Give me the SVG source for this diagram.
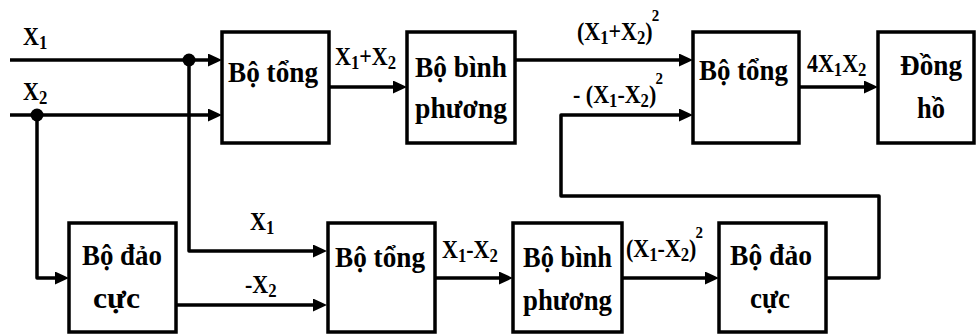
<svg xmlns="http://www.w3.org/2000/svg" width="977" height="335" viewBox="0 0 977 335">
<style>
.box{fill:#fff;stroke:#000;stroke-width:3.5}
.ln{fill:none;stroke:#000;stroke-width:3.5;stroke-linejoin:round}
.t{font-family:"Liberation Serif","Times New Roman",serif;font-size:30px;font-weight:bold;fill:#000}
.l{font-family:"Liberation Serif","Times New Roman",serif;font-size:25px;font-weight:bold;fill:#000}
.sub{font-size:19px}
.sup{font-size:17px}
</style>
<defs>
<marker id="ar" markerUnits="userSpaceOnUse" markerWidth="16" markerHeight="14" refX="4" refY="6.5" orient="auto">
<path d="M0,0 L14,6.5 L0,13 z" fill="#000"/>
</marker>
</defs>
<rect width="977" height="335" fill="#fff"/>
<g id="connectors">
<path class="ln" d="M10,60 H212" marker-end="url(#ar)"/>
<path class="ln" d="M10,115 H212" marker-end="url(#ar)"/>
<path class="ln" d="M189,60 V251 H317" marker-end="url(#ar)"/>
<path class="ln" d="M37,115 V278 H59" marker-end="url(#ar)"/>
<path class="ln" d="M176,305 H317" marker-end="url(#ar)"/>
<path class="ln" d="M329,87 H397" marker-end="url(#ar)"/>
<path class="ln" d="M515,60 H683" marker-end="url(#ar)"/>
<path class="ln" d="M435,278 H503" marker-end="url(#ar)"/>
<path class="ln" d="M622,278 H709" marker-end="url(#ar)"/>
<path class="ln" d="M826,278 H879 V196 H561 V115 H683" marker-end="url(#ar)"/>
<path class="ln" d="M799,87 H868" marker-end="url(#ar)"/>
<circle cx="189" cy="60" r="6.5" fill="#000"/>
<circle cx="37" cy="115" r="6.5" fill="#000"/>
<text class="l" transform="translate(23,45) scale(0.88,1)">X<tspan class="sub" dy="4">1</tspan></text>
<text class="l" transform="translate(23,100) scale(0.88,1)">X<tspan class="sub" dy="4">2</tspan></text>
<text class="l" transform="translate(335,65) scale(0.88,1)">X<tspan class="sub" dy="4">1</tspan><tspan dy="-4">+X</tspan><tspan class="sub" dy="4">2</tspan></text>
<text class="l" transform="translate(577,40) scale(0.88,1)">(X<tspan class="sub" dy="4">1</tspan><tspan dy="-4">+X</tspan><tspan class="sub" dy="4">2</tspan><tspan dy="-4">)</tspan><tspan class="sup" dx="-1" dy="-19">2</tspan></text>
<text class="l" transform="translate(573,103) scale(0.88,1)">- (X<tspan class="sub" dy="4">1</tspan><tspan dy="-4">-X</tspan><tspan class="sub" dy="4">2</tspan><tspan dy="-4">)</tspan><tspan class="sup" dx="-1" dy="-19">2</tspan></text>
<text class="l" transform="translate(807,72) scale(0.88,1)">4X<tspan class="sub" dy="4">1</tspan><tspan dy="-4">X</tspan><tspan class="sub" dy="4">2</tspan></text>
<text class="l" transform="translate(250,230) scale(0.88,1)">X<tspan class="sub" dy="4">1</tspan></text>
<text class="l" transform="translate(245,293) scale(0.88,1)">-X<tspan class="sub" dy="4">2</tspan></text>
<text class="l" transform="translate(442,258) scale(0.88,1)">X<tspan class="sub" dy="4">1</tspan><tspan dy="-4">-X</tspan><tspan class="sub" dy="4">2</tspan></text>
<text class="l" transform="translate(626,257) scale(0.88,1)">(X<tspan class="sub" dy="4">1</tspan><tspan dy="-4">-X</tspan><tspan class="sub" dy="4">2</tspan><tspan dy="-4">)</tspan><tspan class="sup" dx="-1" dy="-19">2</tspan></text>
</g>
<g id="tong1">
<rect class="box" x="222" y="32" width="107" height="111"/>
<text class="t" x="228" y="82" textLength="90" lengthAdjust="spacingAndGlyphs">Bộ tổng</text>
</g>
<g id="binhphuong1">
<rect class="box" x="407" y="32" width="108" height="111"/>
<text class="t" x="415" y="77" textLength="92" lengthAdjust="spacingAndGlyphs">Bộ bình</text>
<text class="t" x="415" y="118" textLength="92" lengthAdjust="spacingAndGlyphs">phương</text>
</g>
<g id="tong2">
<rect class="box" x="693" y="32" width="106" height="111"/>
<text class="t" x="699" y="80" textLength="89" lengthAdjust="spacingAndGlyphs">Bộ tổng</text>
</g>
<g id="dongho">
<rect class="box" x="878" y="32" width="96" height="111"/>
<text class="t" x="900" y="75" textLength="62" lengthAdjust="spacingAndGlyphs">Đồng</text>
<text class="t" x="917" y="118" textLength="28" lengthAdjust="spacingAndGlyphs">hồ</text>
</g>
<g id="daocuc1">
<rect class="box" x="69" y="223" width="107" height="109"/>
<text class="t" x="82" y="265" textLength="80" lengthAdjust="spacingAndGlyphs">Bộ đảo</text>
<text class="t" x="93" y="308" textLength="47" lengthAdjust="spacingAndGlyphs">cực</text>
</g>
<g id="tong3">
<rect class="box" x="328" y="223" width="107" height="109"/>
<text class="t" x="335" y="267" textLength="90" lengthAdjust="spacingAndGlyphs">Bộ tổng</text>
</g>
<g id="binhphuong2">
<rect class="box" x="513" y="223" width="109" height="109"/>
<text class="t" x="523" y="267" textLength="89" lengthAdjust="spacingAndGlyphs">Bộ bình</text>
<text class="t" x="523" y="310" textLength="89" lengthAdjust="spacingAndGlyphs">phương</text>
</g>
<g id="daocuc2">
<rect class="box" x="719" y="223" width="107" height="109"/>
<text class="t" x="730" y="265" textLength="82" lengthAdjust="spacingAndGlyphs">Bộ đảo</text>
<text class="t" x="750" y="308" textLength="40" lengthAdjust="spacingAndGlyphs">cực</text>
</g>
</svg>
